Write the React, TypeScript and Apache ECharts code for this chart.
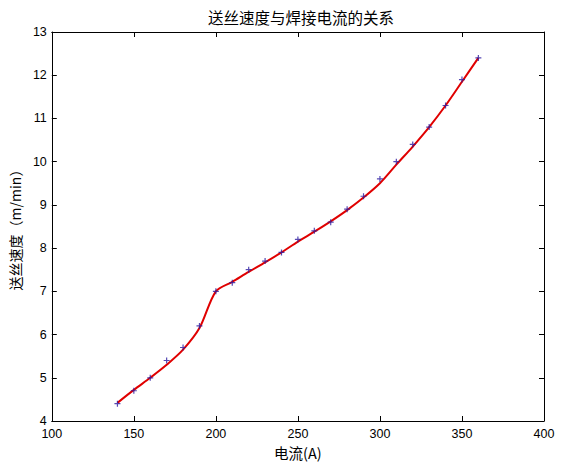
import React, { useEffect, useRef } from "react";
import * as echarts from "echarts";

const current = [140, 150, 160, 170, 180, 190, 200, 210, 220, 230, 240, 250, 260, 270, 280, 290, 300, 310, 320, 330, 340, 350, 360];
const speedMeasured = [4.4, 4.7, 5.0, 5.4, 5.7, 6.2, 7.0, 7.2, 7.5, 7.7, 7.9, 8.2, 8.4, 8.6, 8.9, 9.2, 9.6, 10.0, 10.4, 10.8, 11.3, 11.9, 12.4];
const speedFit = [4.42, 4.72, 5.0, 5.3, 5.65, 6.15, 7.0, 7.22, 7.45, 7.67, 7.9, 8.15, 8.38, 8.62, 8.88, 9.17, 9.5, 9.93, 10.35, 10.8, 11.3, 11.85, 12.4];

const titleText = "送丝速度与焊接电流的关系";
const xName = "电流(A)";
const yName = "送丝速度（m/min）";

const FONT = "'Liberation Sans', Arial, sans-serif";
const CJK = "'Noto Sans CJK SC', sans-serif";

export default function App() {
  const ref = useRef<HTMLDivElement>(null);
  useEffect(() => {
    if (!ref.current) return;
    const chart = echarts.init(ref.current, undefined, { renderer: "svg" });
    const axisLine = { show: true, lineStyle: { color: "#000", width: 1 } };
    const axisTick = { show: true, inside: true, length: 5, lineStyle: { color: "#000" } };
    chart.setOption({
      animation: false,
      backgroundColor: "#fff",
      title: {
        text: titleText,
        left: 296,
        textAlign: "center",
        top: 4,
        textStyle: { fontFamily: CJK, fontSize: 15.5, fontWeight: "normal", color: "#000" },
      },
      grid: { left: 51, right: 30, top: 32, bottom: 45 },
      xAxis: [
        {
          type: "value",
          min: 100,
          max: 400,
          interval: 50,
          position: "bottom",
          axisLine,
          axisTick,
          splitLine: { show: false },
          axisLabel: { color: "#000", fontFamily: FONT, fontSize: 12.5, margin: 6 },
          name: xName,
          nameLocation: "middle",
          nameGap: 19,
          nameTextStyle: { color: "#000", fontFamily: CJK, fontSize: 14.5 },
        },
        {
          type: "value",
          min: 100,
          max: 400,
          interval: 50,
          position: "top",
          axisLine,
          axisTick,
          splitLine: { show: false },
          axisLabel: { show: false },
        },
      ],
      yAxis: [
        {
          type: "value",
          min: 4,
          max: 13,
          interval: 1,
          position: "left",
          axisLine,
          axisTick,
          splitLine: { show: false },
          axisLabel: { color: "#000", fontFamily: FONT, fontSize: 12.5, margin: 5 },
          name: yName,
          nameLocation: "middle",
          nameGap: 29,
          nameTextStyle: { color: "#000", fontFamily: CJK, fontSize: 14 },
        },
        {
          type: "value",
          min: 4,
          max: 13,
          interval: 1,
          position: "right",
          axisLine,
          axisTick,
          splitLine: { show: false },
          axisLabel: { show: false },
        },
      ],
      series: [
        {
          type: "line",
          data: current.map((x, i) => [x, speedFit[i]]),
          smooth: 0.3,
          showSymbol: false,
          lineStyle: { color: "#e00000", width: 2 },
          z: 2,
        },
        {
          type: "scatter",
          data: current.map((x, i) => [x, speedMeasured[i]]),
          symbol: "path://M4,0h2v4h4v2h-4v4h-2v-4h-4v-2h4z",
          symbolSize: 6,
          itemStyle: { color: "#2a1aa0" },
          z: 3,
        },
      ],
    });
    return () => chart.dispose();
  }, []);
  return <div ref={ref} style={{ width: 574, height: 466, position: "absolute", left: 0, top: 0 }} />;
}
